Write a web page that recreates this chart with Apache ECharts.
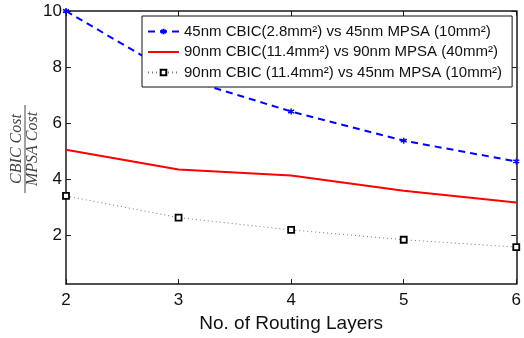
<!DOCTYPE html>
<html><head><meta charset="utf-8">
<script src="https://cdn.jsdelivr.net/npm/echarts@6/dist/echarts.min.js"></script>
<style>html,body{margin:0;padding:0;background:#fff}#c{width:524px;height:338px}</style>
</head><body><div id="c"></div>
<script>
// Cost ratio of CBIC vs MPSA against the number of routing layers
const layers = [2, 3, 4, 5, 6];
const cbic45VsMpsa45 = [10.0, 7.65, 6.42, 5.38, 4.64];
const cbic90VsMpsa90 = [5.06, 4.35, 4.14, 3.60, 3.18];
const cbic90VsMpsa45 = [3.41, 2.64, 2.20, 1.85, 1.59];
const seriesNames = [
  '45nm CBIC(2.8mm²) vs 45nm MPSA (10mm²)',
  '90nm CBIC(11.4mm²) vs 90nm MPSA (40mm²)',
  '90nm CBIC (11.4mm²) vs 45nm MPSA (10mm²)'
];
const yTicks = [2, 4, 6, 8, 10];
const xTicks = [2, 3, 4, 5, 6];

const pairs = (ys) => layers.map((x, i) => [x, ys[i]]);
const FONT = 'Liberation Sans';
const axisCol = '#1a1a1a';

const chart = echarts.init(document.getElementById('c'), null, { renderer: 'canvas' });

const commonX = {
  type: 'value', min: 2, max: 6, interval: 1,
  axisLine: { show: true, lineStyle: { color: axisCol, width: 1.5 } },
  axisTick: { show: true, inside: true, length: 5, lineStyle: { color: axisCol, width: 1 } },
  splitLine: { show: false }
};
const commonY = {
  type: 'value', min: 0.27, max: 10,
  axisLine: { show: true, lineStyle: { color: axisCol, width: 1.5 } },
  axisTick: { show: true, inside: true, length: 5, customValues: yTicks, lineStyle: { color: axisCol, width: 1 } },
  splitLine: { show: false }
};

chart.setOption({
  animation: false,
  backgroundColor: '#fff',
  grid: { left: 66, right: 7, top: 11, bottom: 50, containLabel: false },
  xAxis: [
    Object.assign({}, commonX, {
      position: 'bottom',
      name: 'No. of Routing Layers', nameLocation: 'middle', nameGap: 21,
      nameTextStyle: { fontFamily: FONT, fontSize: 19, color: '#111' },
      axisLabel: { show: true, margin: 8, fontFamily: FONT, fontSize: 17, color: '#111', customValues: xTicks }
    }),
    Object.assign({}, commonX, { position: 'top', axisLabel: { show: false } })
  ],
  yAxis: [
    Object.assign({}, commonY, {
      position: 'left',
      axisLabel: { show: true, margin: 4, fontFamily: FONT, fontSize: 17, color: '#111', customValues: yTicks }
    }),
    Object.assign({}, commonY, { position: 'right', axisLabel: { show: false } })
  ],
  legend: {
    orient: 'vertical', left: 142, top: 16,
    backgroundColor: '#fff', borderColor: '#111', borderWidth: 1,
    padding: [8, 10, 7, 5], itemGap: 5.5, itemWidth: 31, itemHeight: 7,
    textStyle: { fontFamily: FONT, fontSize: 15, color: '#111' },
    data: [
      { name: seriesNames[0] },
      { name: seriesNames[1], itemStyle: { opacity: 0 } },
      { name: seriesNames[2] }
    ]
  },
  graphic: [{
    type: 'group', x: 25, y: 149, rotation: Math.PI / 2,
    children: [
      { type: 'text', x: 0, y: -8, style: { text: 'CBIC Cost', fontFamily: 'Liberation Serif', fontStyle: 'italic', fontSize: 16, fill: '#444', align: 'center', verticalAlign: 'middle' } },
      { type: 'line', shape: { x1: -44, y1: 0, x2: 44, y2: 0 }, style: { stroke: '#444', lineWidth: 1 } },
      { type: 'text', x: 0, y: 8, style: { text: 'MPSA Cost', fontFamily: 'Liberation Serif', fontStyle: 'italic', fontSize: 16, fill: '#444', align: 'center', verticalAlign: 'middle' } }
    ]
  }],
  series: [
    {
      name: seriesNames[0], type: 'line', data: pairs(cbic45VsMpsa45),
      symbol: 'path://M0,-5L0,5M-4.3,-2.5L4.3,2.5M-4.3,2.5L4.3,-2.5', symbolSize: 6,
      itemStyle: { color: 'none', borderColor: '#0000ff', borderWidth: 1.5 },
      lineStyle: { color: '#0000ff', width: 2, type: [7, 5] }, z: 3
    },
    {
      name: seriesNames[1], type: 'line', data: pairs(cbic90VsMpsa90),
      symbol: 'none', itemStyle: { color: '#ff0000' },
      lineStyle: { color: '#ff0000', width: 2 }, z: 2
    },
    {
      name: seriesNames[2], type: 'line', data: pairs(cbic90VsMpsa45),
      symbol: 'rect', symbolSize: 6,
      itemStyle: { color: '#fff', borderColor: '#000', borderWidth: 1.8 },
      lineStyle: { color: '#777', width: 1, type: [1, 3] }, z: 2
    }
  ]
});
</script></body></html>
